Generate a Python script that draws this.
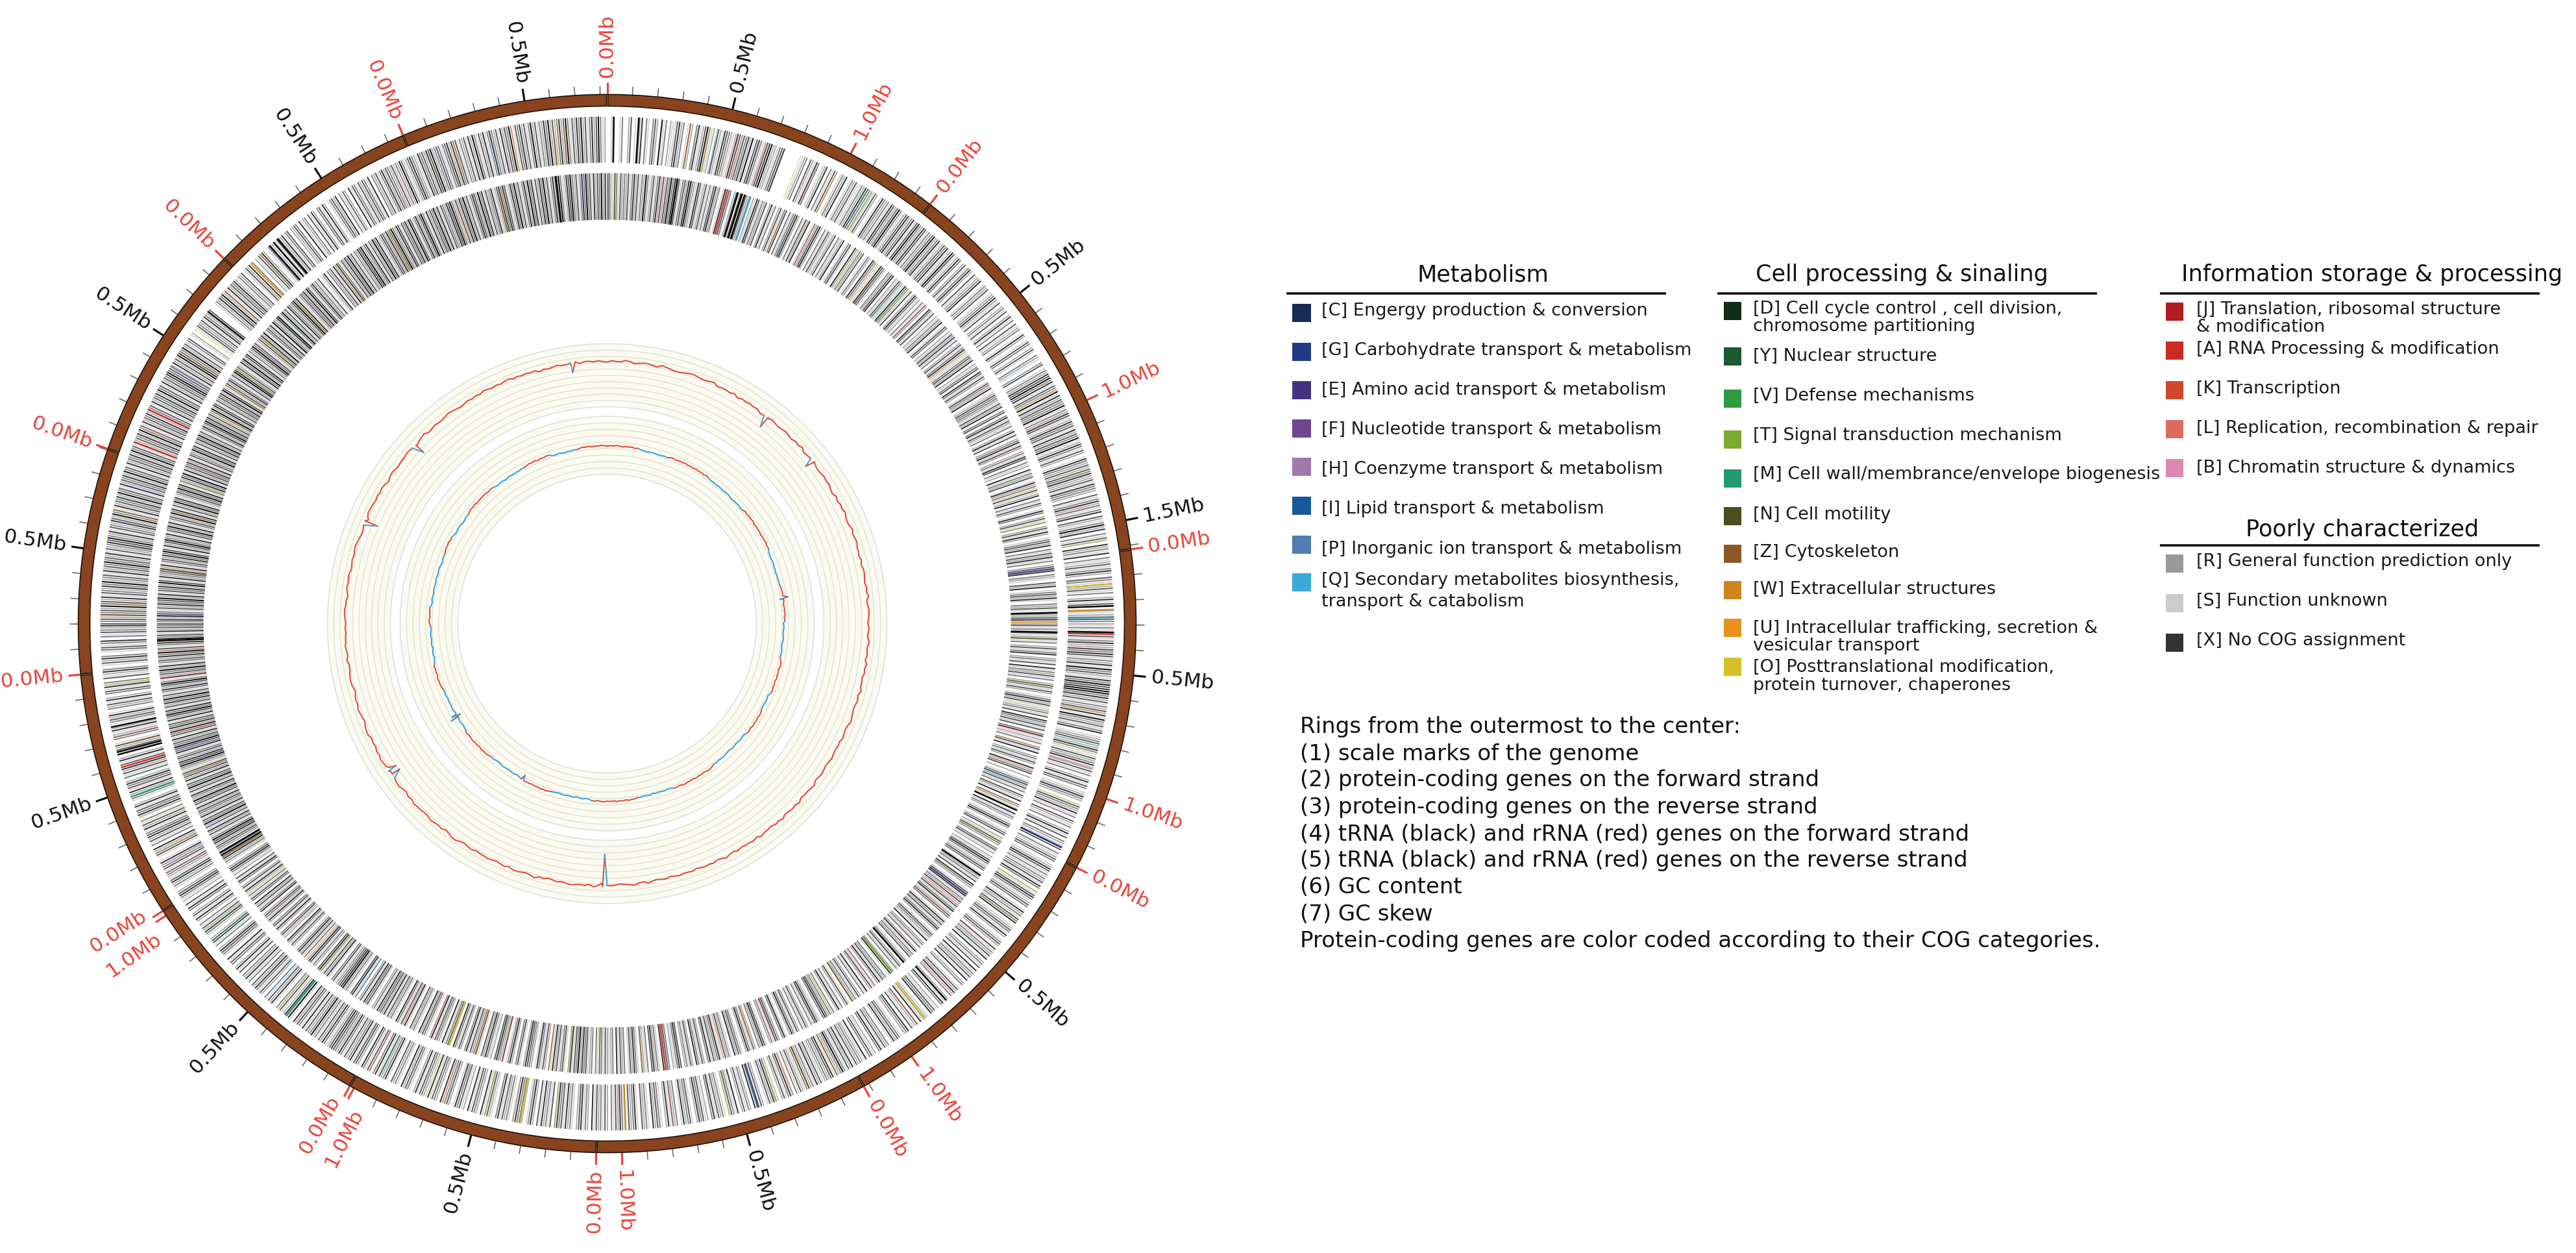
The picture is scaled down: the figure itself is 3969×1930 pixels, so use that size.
import numpy as np, pandas as pd, seaborn as sns, matplotlib
matplotlib.use('Agg')
import matplotlib.pyplot as plt
from matplotlib.patches import Rectangle

# ---------- data ----------
contig_lengths_mb = [1.372,1.617,1.296,1.223,1.102,1.018,1.022,0.998,0.905,0.887,0.865,0.828]

# gray level of the protein-coding genes, one character per 0.25 degree, one row per 30 degrees
ring_forward = [
"0012001300240112503103420613021145230142035124631204215432115424352614531245622134500000000123042153012503142013250132415",
"1325432142015323154246312452351463254132462351243512641253024135204123501324012352140231402513041230152014302410321024013",
"3254635143261524336132541253415243612531420153241435224153320413524135042136250314205231503124135204315241302514203125431",
"2131424135226354132516342153645763524132425163241350123412530142351241302514301253201432513042130251403215403124301254132",
"1324153021453124301523143501243152013420513241502314051324150230142513024153021435012415032140532013425103241530214305123",
"3241524136324154232142513263124130253142013524102413502314205134201324153021435201432510324152013425013240153240135241302",
"2413241502315420132514352041325140253102435201324153012431502341502143510243150234150234152013425013240153241530241350243",
"4153241352345421352413263241513425016352142301524130241352403152304152034150134520315420136241302514203514021354201325413",
"2341432510143250314254315241302534152013425143520314253415203142510342152013425103241520341523041253014253012413502143251",
"4342534263425143253623415243634251423546325143254263415243526341524352634152435263415243526341524352634152435263415243562",
"2431524265436241340120014324153214000132536241524352132401425130214352013420143251340214305123041520341520134250314205143",
"3142431503241352432413263124532153425462342134526341324152631425136324152436214352413624132536241352463142536241352463125",
]
ring_reverse = [
"3421531423241352413263124135241436352413425632154124131452301524302413514230215413240251302413502134520314250132452031425",
"1240312501341052132401320532015431032450214301532140253120314205314021325014302142513024135201342502134053142014325012431",
"3214250340351421302514023514202315403120513240152304125031420153024130241520134250314251302415032104250134251032410324513",
"2413041251302413502314051324130253142013524102314053241403512130241502314205134020135241304215032140513201352013402153201",
"3412021453124301523140532014251324024135124301524135201432150231402513240135024130245103241520314205130241325014203152034",
"1324530125413024130241352015302451320145230241352013425013240153241530241350241320453120341501325403124013524103241503214",
"2413413032143526341520143142513024135102345201430253104235402135240153241530241350243150234152013425013240152413501324150",
"2435132014351420315401326543214301524135402314520314253102413502143025143025134205314250341302514203514021354201325413024",
"3425463142513263415234251436235142634152435123645243152463425143625341524635142536241352463152436251342536241352634152436",
"4352643142534625143526415234625134253641524632514362513426351426351243635142536152436251432635142536241352463524136254143",
"2435264134253142653421536245132463512435261342516325413624153246351243526413523140125032415263142536241325462351426351242",
"4253463254143526413524631524362514325463142536241354263514235124635412536241352635142536241352463125463241352634152436251",
]

# pale coloured genes: angle in degrees, COG letter
coloured_forward = [(9.5,'W'),(11.8,'O'),(14.8,'L'),(15.5,'L'),(12.6,'P'),(18.4,'L'),(22.5,'O'),(24.6,'B'),(27.0,'W'),(31.0,'M'),(31.6,'T'),(35.0,'H'),
 (59.0,'P'),(62.5,'U'),(65.4,'B'),(72.0,'T'),(76.5,'B'),(80.5,'O'),(93.0,'B'),
 (100.2,'U'),(104.0,'M'),(105.0,'T'),(106.6,'A'),(111.0,'O'),(112.5,'B'),(122.0,'O'),(126.0,'T'),(130.0,'L'),(137.0,'L'),
 (142.2,'A'),(153.0,'W'),(156.5,'U'),(158.4,'L'),(160.2,'O'),(166.0,'O'),(172.5,'L'),(178.6,'B'),(186.0,'T'),
 (190.8,'L'),(194.0,'O'),(199.0,'A'),(201.0,'T'),(206.7,'M'),(208.0,'A'),(220.5,'O'),(222.5,'Q'),(231.0,'M'),(232.5,'T'),
 (240.5,'L'),(241.5,'H'),(243.0,'W'),(247.0,'T'),(252.2,'M'),(256.0,'W'),(257.0,'L'),(263.0,'O'),(267.0,'C'),(268.5,'E'),
 (271.0,'W'),(272.3,'W'),(283.0,'W'),(286.0,'E'),(293.0,'L'),(300.0,'G'),(300.6,'E'),(302.5,'W'),(305.5,'O'),(311.0,'L'),
 (316.8,'W'),(321.5,'H'),(328.5,'H'),(335.0,'B'),(340.5,'E'),(342.0,'W'),(346.5,'P'),(349.0,'W'),(354.0,'W'),(355.0,'W')]
coloured_reverse = [(353.5,'D'),(357.0,'G'),(1.0,'T'),(7.5,'L'),(23.5,'W'),(24.0,'G'),(27.5,'L'),(34.0,'O'),(37.0,'W'),(41.0,'M'),
 (42.0,'T'),(45.0,'B'),(50.5,'P'),(53.0,'W'),(58.0,'B'),(67.0,'B'),(72.5,'W'),(77.0,'O'),(92.0,'T'),(98.0,'O'),(101.0,'T'),
 (104.5,'A'),(106.0,'W'),(109.0,'L'),(111.0,'Q'),(114.0,'U'),(119.0,'O'),(128.5,'A'),(130.5,'L'),(136.0,'B'),(143.5,'L'),
 (147.0,'W'),(150.0,'O'),(158.0,'L'),(161.0,'W'),(165.0,'A'),(175.5,'W'),(181.0,'T'),(185.0,'T'),(187.5,'W'),(193.5,'A'),(197.0,'U'),
 (203.2,'L'),(207.2,'L'),(214.0,'Q'),(219.5,'O'),(222.0,'W'),(226.0,'B'),(229.0,'B'),(233.0,'T'),(238.7,'W'),(243.0,'G'),(250.5,'W'),
 (253.5,'G'),(256.0,'A'),(263.0,'A'),(266.5,'L'),(271.0,'G'),(277.0,'W'),(284.5,'W'),(288.5,'O'),(291.0,'B'),(298.0,'W'),(302.0,'W'),(304.5,'O'),
 (308.5,'B'),(309.5,'O'),(316.0,'W'),(323.0,'W'),(331.0,'W'),(340.0,'W'),(346.0,'W')]
# strongly coloured genes
strong_forward = [(85.5,'O'),(88.4,'U'),(89.3,'Q'),(91.2,'A'),(116.2,'G'),(141.2,'O'),(162.6,'G'),(177.9,'W'),(189.9,'O'),(219.3,'M'),(250.0,'M'),(253.5,'A'),(291.0,'A'),(295.0,'A'),(315.3,'U')]
strong_reverse = [(15.5,'A'),(18.6,'Q'),(83.0,'E'),(89.8,'U'),(127.0,'E'),(140.7,'T'),(172.5,'A'),(200.6,'O'),(313.0,'D')]

# very dark bars: angle in degrees
black_forward = [0.75,3.6,88.0,91.0,138.0,255.0,255.3,258.2,318.2,318.8,319.4,308.0]
black_reverse = [16.9,17.4,17.8,9.0,114.5,124.0,138.8,88.6,91.1,239.0,239.4,267.8,353.4]

# GC content: one digit per degree, one row per 30 degrees (read as 66 + 1.2 * digit percent of the band height)
gc_content = [
"465576456654765445676556745546",
"354545234543454354634564345453",
"253546434645644353554354634554",
"354364453645344635434564345343",
"454345436544364543645344635443",
"534643545435445435434634654345",
"565746567656546586567757656766",
"576568865767866778675687657678",
"675657764567565356654464565545",
"456655356566456567654466576656",
"565356545566545674565567654565",
"657656567565656354565567466565",
]
# sharp dips of the GC content curve: angle in degrees, percent of the band height
gc_dips = [(37.9,52),(38.3,70),(51.6,58),(52.0,70),(180.6,22),(181.2,68),(235.0,58),(235.6,72),(236.1,60),(236.6,70),
           (293.0,52),(293.5,69),(313.0,54),(313.5,70),(352.2,58),(352.8,70)]

# GC skew: one digit per degree, one row per 30 degrees (read as 46 + 0.6 * digit percent of the band height)
gc_skew = [
"465764657463212321232564657564",
"756474231321232012312646574656",
"465756321231202132456576465746",
"132123201321567465746576123212",
"564657465213212301232132576465",
"746576465213212032132456465746",
"576465213203213212346575646574",
"213212320132465746576574213203",
"132120312465746574213203213212",
"574657213203212312320132465746",
"312320132465746576465213203212",
"132465746576213202132465746576",
]
gc_skew_dips = [(81.6,58),(82.0,44),(208.4,40),(208.9,49),(238.0,60),(238.4,40),(238.9,55),(239.3,46)]

# legend content
cog_colours = dict(C='#1a2a55',G='#213a86',E='#453381',F='#70458f',H='#a07aaa',I='#15599a',P='#507cb4',Q='#3ba8d8',
 D='#122d17',Y='#1a5a32',V='#2f9b45',T='#7bab30',M='#1f9a72',N='#4d4d22',Z='#8d5826',W='#cf841e',U='#e6921c',O='#d4c126',
 J='#b01c22',A='#cc2a26',K='#d0472f',L='#dc6d5c',B='#dd88b0',R='#999999',S='#cccccc',X='#333333')
metabolism = ["[C] Engergy production & conversion","[G] Carbohydrate transport & metabolism","[E] Amino acid transport & metabolism",
 "[F] Nucleotide transport & metabolism","[H] Coenzyme transport & metabolism","[I] Lipid transport & metabolism",
 "[P] Inorganic ion transport & metabolism","[Q] Secondary metabolites biosynthesis,\ntransport & catabolism"]
metabolism_keys = list("CGEFHIPQ")
cell = ["[D] Cell cycle control , cell division,\nchromosome partitioning","[Y] Nuclear structure","[V] Defense mechanisms",
 "[T] Signal transduction mechanism","[M] Cell wall/membrance/envelope biogenesis","[N] Cell motility","[Z] Cytoskeleton",
 "[W] Extracellular structures","[U] Intracellular trafficking, secretion &\nvesicular transport",
 "[O] Posttranslational modification,\nprotein turnover, chaperones"]
cell_keys = list("DYVTMNZWUO")
info = ["[J] Translation, ribosomal structure\n& modification","[A] RNA Processing & modification","[K] Transcription",
 "[L] Replication, recombination & repair","[B] Chromatin structure & dynamics"]
info_keys = list("JAKLB")
poor = ["[R] General function prediction only","[S] Function unknown","[X] No COG assignment"]
poor_keys = list("RSX")
notes = ["Rings from the outermost to the center:","(1) scale marks of the genome","(2) protein-coding genes on the forward strand",
 "(3) protein-coding genes on the reverse strand","(4) tRNA (black) and rRNA (red) genes on the forward strand",
 "(5) tRNA (black) and rRNA (red) genes on the reverse strand","(6) GC content","(7) GC skew",
 "Protein-coding genes are color coded according to their COG categories."]

# ---------- layout ----------
W, H = 3969, 1930
CX, CY, RMAX = 935.5, 960.5, 1000
R_BROWN = (797, 815)
R_RING1 = (710, 781)
R_RING2 = (622, 694)
R_GC1 = (334, 431)
R_GC2 = (230, 319)
RED, BLUE, BROWN = '#e8453b', '#36a3dc', '#87441f'

sns.set_theme(style='white')
plt.rcParams['font.family'] = ['DejaVu Sans']
fig = plt.figure(figsize=(W/100, H/100), dpi=100, facecolor='white')
ax = fig.add_axes([(CX-RMAX)/W, (H-CY-RMAX)/H, 2*RMAX/W, 2*RMAX/H], projection='polar')
ax.set_theta_zero_location('N'); ax.set_theta_direction(-1)
ax.patch.set_alpha(0)
rad = np.deg2rad
px = 0.72  # one pixel in points

# contigs
deg_per_mb = 360/sum(contig_lengths_mb)
starts = np.cumsum([0]+contig_lengths_mb)*deg_per_mb
for s, L in zip(starts[:-1], contig_lengths_mb):
    w = L*deg_per_mb
    ax.bar(rad(s+w/2), R_BROWN[1]-R_BROWN[0], width=rad(w-0.14), bottom=R_BROWN[0], color=BROWN, edgecolor='#1a1008', linewidth=1.6*px, zorder=3)
    ax.bar(rad(s+w/2), R_GC1[1]-R_GC1[0], width=rad(w-0.05), bottom=R_GC1[0], color='#fbfbf1', linewidth=0, zorder=1)
    ax.bar(rad(s+w/2), R_GC2[1]-R_GC2[0], width=rad(w-0.05), bottom=R_GC2[0], color='#fbfbf1', linewidth=0, zorder=1)
    for n in range(int(L*10+1e-9)+1):
        a = s+n*0.1*deg_per_mb
        major = n % 5 == 0
        is_red = n % 10 == 0
        col = RED if is_red else ('#111111' if major else '#666666')
        ax.vlines(rad(a), R_BROWN[1], R_BROWN[1]+(19 if major else 13), colors=col, linewidth=(3.2 if major else 1.6)*px, zorder=2)
        if major:
            la = a
            near_end = n == 10 and abs(L*10-10) < 0.3
            if near_end: la -= 1.5
            if n == 0 and s > 200 and s < 240: la += 0.7
            t = f"{n/10:.1f}Mb"
            rot = 90-la if la < 180 else 270-la
            ha = 'left' if la < 180 else 'right'
            ax.text(rad(la), 842, t, color=RED if is_red else '#111111', fontsize=22.5, rotation=rot,
                    rotation_mode='anchor', ha=ha, va='center', zorder=5)

# gene rings
def level_gray(ch):
    g = max(0.0, 1.0-int(ch)*0.165)
    return (g, g, g)
for rows, rr, pale, strong, blacks in ((ring_forward, R_RING1, coloured_forward, strong_forward, black_forward),
                                       (ring_reverse, R_RING2, coloured_reverse, strong_reverse, black_reverse)):
    th, cs = [], []
    for k, row in enumerate(rows):
        for i, ch in enumerate(row[:120]):
            if ch != '0':
                th.append(rad(k*30+i*0.25)); cs.append(level_gray(ch))
    ax.vlines(th, rr[0], rr[1], colors=cs, linewidth=1.9*px, zorder=2)
    ax.vlines([rad(a) for a, _ in pale], rr[0], rr[1], colors=[cog_colours[c] for _, c in pale], linewidth=1.6*px, alpha=0.5, zorder=3)
    ax.vlines([rad(a) for a, _ in strong], rr[0], rr[1], colors=[cog_colours[c] for _, c in strong], linewidth=2.4*px, alpha=0.95, zorder=3)
    ax.vlines(rad(np.array(blacks)), rr[0], rr[1], colors='#0a0a0a', linewidth=2.6*px, zorder=3)

# GC band grid lines
circle = np.linspace(0, 2*np.pi, 1441)
for rb, n in ((R_GC1, 10), (R_GC2, 9)):
    for i, r in enumerate(np.linspace(rb[0], rb[1], n+1)):
        edge = i in (0, n)
        ax.plot(circle, np.full_like(circle, r), color='#e2e3e4' if edge else '#e8e8d6', linewidth=1.9*px, zorder=1.5)

# GC curves
def curve(rows_, offset, step, dips, rb, thr):
    pts = []
    for k, row in enumerate(rows_):
        for i, ch in enumerate(row[:30]):
            pts.append((k*30.0+i, offset+step*int(ch)))
    pts = sorted(pts+list(dips))
    pts = pts+[(360.0, pts[0][1])]
    rows = []
    run = 0
    prev = None
    for a, v in pts:
        side = 'high' if v >= thr else 'low'
        r = rb[0]+v/100*(rb[1]-rb[0])
        if prev is not None and prev[2] != side:
            run += 1
            rows.append((rad(prev[0]), prev[1], side, run))
        rows.append((rad(a), r, side, run))
        prev = (a, r, side)
    return pd.DataFrame(rows, columns=['theta', 'r', 'side', 'run'])
for df in (curve(gc_content, 66, 1.2, gc_dips, R_GC1, 62), curve(gc_skew, 46, 0.6, gc_skew_dips, R_GC2, 47.9)):
    sns.lineplot(data=df, x='theta', y='r', hue='side', units='run', estimator=None, sort=False,
                 palette={'high': RED, 'low': BLUE}, linewidth=2.0*px, legend=False, ax=ax, zorder=4)
ax.set_xlabel(''); ax.set_ylabel('')
ax.set_rlim(0, RMAX)
ax.set_axis_off()

# ---------- legend panel in pixel coordinates ----------
lax = fig.add_axes([0, 0, 1, 1])
lax.set_xlim(0, W); lax.set_ylim(H, 0); lax.axis('off'); lax.patch.set_alpha(0)

def block(title, tx, ty, line_x, line_y, labels, keys, sq_x, sq_w, sq_y, text_x, text_y):
    lax.text(tx, ty, title, fontsize=25.3, ha='center', va='center', color='#111111')
    lax.plot(line_x, [line_y, line_y], color='#111111', linewidth=3.6*px, solid_capstyle='butt')
    for lab, k, sy, ys in zip(labels, keys, sq_y, text_y):
        lax.add_patch(Rectangle((sq_x, sy-14), sq_w, 28, color=cog_colours[k], lw=0))
        for line, y in zip(lab.split('\n'), ys):
            lax.text(text_x, y, line, fontsize=19.5, ha='left', va='center', color='#1a1a1a')

block("Metabolism", 2285, 423, (1982, 2567), 452, metabolism, metabolism_keys, 1991, 29,
      [482, 542, 601, 660, 719, 779, 839, 897], 2036,
      [[479],[540],[601],[662],[723],[784],[846],[894,927]])
block("Cell processing & sinaling", 2930, 423, (2646, 3231), 452, cell, cell_keys, 2656, 27,
      [479, 549, 614, 677, 737, 795, 853, 909, 967, 1027], 2701,
      [[476,503],[549],[610],[671],[731],[793],[851],[908],[968,995],[1028,1056]])
block("Information storage & processing", 3655, 423, (3328, 3913), 452, info, info_keys, 3337, 27,
      [480, 540, 601, 661, 721], 3384,
      [[477,504],[538],[599],[660],[721]])
block("Poorly characterized", 3640, 816, (3328, 3913), 840, poor, poor_keys, 3337, 27,
      [868, 929, 990], 3384, [[865],[926],[987]])
for line, y in zip(notes, [1120, 1161, 1202, 1244, 1285, 1326, 1367, 1408, 1449]):
    lax.text(2003, y, line, fontsize=24.5, ha='left', va='center', color='#111111')

fig.savefig('out.png', dpi=100, facecolor='white')
